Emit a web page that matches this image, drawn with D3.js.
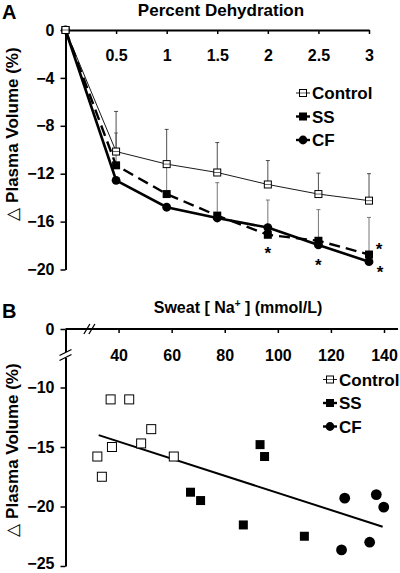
<!DOCTYPE html>
<html><head><meta charset="utf-8">
<script src="https://cdn.jsdelivr.net/npm/d3@7"></script>
<style>body{margin:0;background:#fff}svg{display:block}text{font-family:"Liberation Sans",Arial,sans-serif;font-weight:bold;fill:#000}</style>
</head><body><svg id="c" width="400" height="573"></svg>
<script>
// ---- Panel A data ----
const dehydration = [0, 0.5, 1, 1.5, 2, 2.5, 3];
const controlPV = [0, -10.15, -11.2, -11.9, -12.9, -13.7, -14.25];
const ssPV = [0, -11.3, -13.7, -15.5, -17.1, -17.6, -18.75];
const cfPV = [0, -12.55, -14.8, -15.7, -16.5, -17.95, -19.35];
const controlErr = [0, 3.35, 2.9, 2.5, 2.0, 1.75, 2.25];
const ssErr = [0, 2.7, 2.5, 2.75, 2.9, 2.6, 3.1];
const xTicksA = [0.5, 1, 1.5, 2, 2.5, 3];
const yTicksA = [0, -4, -8, -12, -16, -20];
const starX = [2, 2.5, 3.1, 3.11];
const starY = [-18.4, -19.35, -18.05, -19.95];
const seriesNames = ["Control", "SS", "CF"];

// ---- Panel B data ----
const ctrlNa = [32, 33.7, 37, 37.5, 44, 48.5, 52.3, 60.8];
const ctrlPV = [-15.8, -17.5, -11, -15, -11, -14.7, -13.5, -15.8];
const ssNa = [67.1, 70.9, 87, 93.3, 95, 110];
const ssPVb = [-18.8, -19.5, -21.55, -14.8, -15.8, -22.5];
const cfNa = [124, 125.2, 134.6, 137.1, 139.9];
const cfPVb = [-23.65, -19.3, -23, -19, -20.05];
const fitNa = [32.5, 139.5];
const fitPV = [-14.0, -21.7];
const xTicksB = [40, 60, 80, 100, 120, 140];
const yTicksB = [0, -10, -15, -20, -25];

const svg = d3.select("#c");
const FS = 16;

// ================= Panel A =================
const xA = d3.scaleLinear().domain([0, 3]).range([65.5, 369]);
const yA = d3.scaleLinear().domain([-20, 0]).range([269.5, 30]);
const gA = svg.append("g");

const axA_x = gA.append("g").attr("transform", `translate(0,${yA(0)})`)
  .call(d3.axisBottom(xA).tickValues(xTicksA).tickSize(4).tickSizeOuter(0).tickFormat(d3.format("")));
const axA_y = gA.append("g").attr("transform", `translate(${xA(0)},0)`)
  .call(d3.axisLeft(yA).tickValues(yTicksA).tickSize(5).tickSizeOuter(0));
[axA_x, axA_y].forEach(a => {
  a.select(".domain").attr("stroke", "#000").attr("stroke-width", 2);
  a.selectAll(".tick line").attr("stroke", "#000").attr("stroke-width", 1.5);
  a.selectAll(".tick text").style("font-size", FS + "px").attr("fill", "#000");
});
axA_x.selectAll(".tick text").attr("dy", 0).attr("y", 31);
axA_y.selectAll(".tick text").attr("x", -11);

function errBars(g, xs, ys, es, xScale, yScale, color, w) {
  xs.forEach((x, i) => {
    if (!es[i]) return;
    const px = xScale(x), y0 = yScale(ys[i]), y1 = yScale(ys[i] + es[i]);
    g.append("line").attr("x1", px).attr("x2", px).attr("y1", y0).attr("y2", y1).attr("stroke", color).attr("stroke-width", w);
    g.append("line").attr("x1", px - 2).attr("x2", px + 2).attr("y1", y1).attr("y2", y1).attr("stroke", color).attr("stroke-width", w);
  });
}
errBars(gA, dehydration, ssPV, ssErr, xA, yA, "#777", 1);
errBars(gA, dehydration, controlPV, controlErr, xA, yA, "#222", 0.8);

const lineA = (vals) => d3.line().x((d, i) => xA(dehydration[i])).y(d => yA(d))(vals);
gA.append("path").attr("d", lineA(controlPV)).attr("fill", "none").attr("stroke", "#000").attr("stroke-width", 0.9);
gA.append("path").attr("d", lineA(ssPV)).attr("fill", "none").attr("stroke", "#000").attr("stroke-width", 2.4).attr("stroke-dasharray", "11,6");
gA.append("path").attr("d", lineA(cfPV)).attr("fill", "none").attr("stroke", "#000").attr("stroke-width", 2.6);

function squares(g, xs, ys, xs_, ys_, size, filled) {
  g.selectAll(null).data(xs).enter().append("rect")
    .attr("x", (d) => xs_(d) - size / 2).attr("y", (d, i) => ys_(ys[i]) - size / 2)
    .attr("width", size).attr("height", size)
    .attr("fill", filled ? "#000" : "#fff").attr("stroke", "#000").attr("stroke-width", filled ? 0 : 1);
}
function circles(g, xs, ys, xs_, ys_, r) {
  g.selectAll(null).data(xs).enter().append("circle")
    .attr("cx", d => xs_(d)).attr("cy", (d, i) => ys_(ys[i])).attr("r", r).attr("fill", "#000");
}
squares(gA, dehydration, ssPV, xA, yA, 8, true);
circles(gA, dehydration, cfPV, xA, yA, 4.4);
squares(gA, dehydration, controlPV, xA, yA, 7, false);
gA.selectAll(null).data(dehydration).enter().append("line")
  .attr("x1", d => xA(d) - 3.5).attr("x2", d => xA(d) + 3.5)
  .attr("y1", (d, i) => yA(controlPV[i])).attr("y2", (d, i) => yA(controlPV[i]))
  .attr("stroke", "#000").attr("stroke-width", 0.6);

gA.selectAll(null).data(starX).enter().append("text")
  .attr("x", d => xA(d)).attr("y", (d, i) => yA(starY[i]) + 9)
  .attr("text-anchor", "middle").style("font-size", "17px").text("*");

function legend(g, x0, ys) {
  seriesNames.forEach((n, i) => {
    const y = ys[i];
    g.append("line").attr("x1", x0).attr("x2", x0 + 14).attr("y1", y).attr("y2", y)
      .attr("stroke", "#000").attr("stroke-width", i === 0 ? 0.9 : 2.4);
    if (i === 0) {
      g.append("rect").attr("x", x0 + 3.5).attr("y", y - 3.5).attr("width", 7).attr("height", 7).attr("fill", "#fff").attr("stroke", "#000");
      g.append("line").attr("x1", x0 + 3.5).attr("x2", x0 + 10.5).attr("y1", y).attr("y2", y).attr("stroke", "#000").attr("stroke-width", 0.6);
    } else if (i === 1) {
      g.append("rect").attr("x", x0 + 3).attr("y", y - 4).attr("width", 8).attr("height", 8).attr("fill", "#000");
    } else {
      g.append("circle").attr("cx", x0 + 7).attr("cy", y).attr("r", 4.4).attr("fill", "#000");
    }
    g.append("text").attr("x", x0 + 16).attr("y", y).attr("dy", "0.36em").style("font-size", "17px").text(n);
  });
}
legend(gA, 296, [93, 116.5, 140]);

svg.append("text").attr("x", 2).attr("y", 19).style("font-size", "20px").text("A");
svg.append("text").attr("x", 221).attr("y", 16).attr("text-anchor", "middle").style("font-size", "17px").text("Percent Dehydration");
function yLabel(cy) {
  const t = svg.append("text").attr("transform", `translate(18,${cy}) rotate(-90)`).attr("text-anchor", "middle").style("font-size", "17px");
  t.append("tspan").style("font-weight", "normal").text("\u25B3 ");
  t.append("tspan").text("Plasma Volume (%)");
}
yLabel(134);

// ================= Panel B =================
const xB = d3.scaleLinear().domain([20, 140]).range([65.5, 384]);
const yB = d3.scaleLinear().domain([-25, -10, 0]).range([566, 387.5, 329]);
const gB = svg.append("g");

const axB_x = gB.append("g").attr("transform", `translate(0,${yB(0)})`)
  .call(d3.axisBottom(xB).tickValues(xTicksB).tickSize(4).tickSizeOuter(0));
axB_x.select(".domain").attr("d", `M${xB(20)},0H398`);
const axB_y = gB.append("g").attr("transform", `translate(${xB(20)},0)`)
  .call(d3.axisLeft(yB).tickValues(yTicksB).tickSize(5).tickSizeOuter(0));
[axB_x, axB_y].forEach(a => {
  a.select(".domain").attr("stroke", "#000").attr("stroke-width", 2);
  a.selectAll(".tick line").attr("stroke", "#000").attr("stroke-width", 1.5);
  a.selectAll(".tick text").style("font-size", FS + "px").attr("fill", "#000");
});
axB_x.selectAll(".tick text").attr("dy", 0).attr("y", 32);
axB_y.selectAll(".tick text").attr("x", -11).attr("dy", d => d === -25 ? "0.15em" : "0.32em");

const bx = xB(29), byy = yB(0);
[-2.5, 2.5].forEach(o => {
  gB.append("line").attr("x1", bx + o - 3).attr("x2", bx + o + 3).attr("y1", byy + 5).attr("y2", byy - 5).attr("stroke", "#000").attr("stroke-width", 1.3);
});
const by = 355, ax = xB(20);
gB.append("rect").attr("x", ax - 3).attr("y", by - 3).attr("width", 6).attr("height", 6).attr("fill", "#fff");
[-2.5, 2.5].forEach(o => {
  gB.append("line").attr("x1", ax - 6).attr("x2", ax + 6).attr("y1", by + o + 3).attr("y2", by + o - 3).attr("stroke", "#000").attr("stroke-width", 1.3);
});

gB.append("path").attr("d", d3.line().x((d, i) => xB(d)).y((d, i) => yB(fitPV[i]))(fitNa))
  .attr("stroke", "#000").attr("stroke-width", 2).attr("fill", "none");

squares(gB, ctrlNa, ctrlPV, xB, yB, 9, false);
squares(gB, ssNa, ssPVb, xB, yB, 9, true);
circles(gB, cfNa, cfPVb, xB, yB, 5.4);

legend(gB, 323, [379.5, 403, 426.5]);

svg.append("text").attr("x", 2).attr("y", 318).style("font-size", "20px").text("B");
const tB = svg.append("text").attr("x", 238).attr("y", 313).attr("text-anchor", "middle").style("font-size", "16px");
tB.append("tspan").text("Sweat [ Na");
tB.append("tspan").attr("dy", -6).style("font-size", "10px").text("+");
tB.append("tspan").attr("dy", 6).text(" ] (mmol/L)");
yLabel(450);
</script></body></html>
